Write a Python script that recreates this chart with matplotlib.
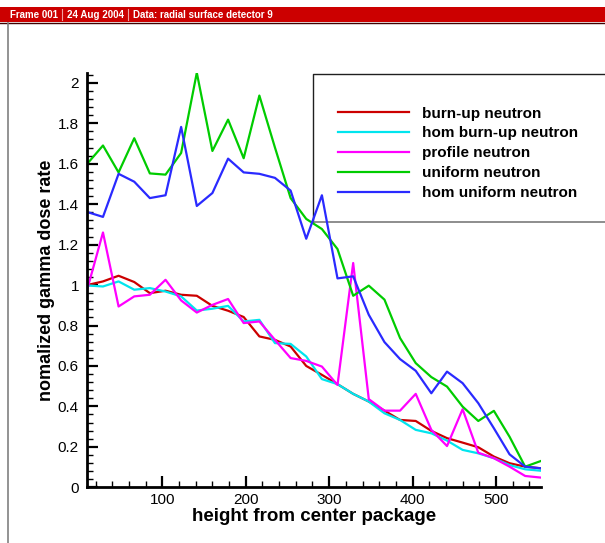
import matplotlib.pyplot as plt
from matplotlib.patches import Rectangle
from matplotlib.lines import Line2D
from matplotlib.ticker import MultipleLocator

plt.rcParams["font.family"] = ["Liberation Sans", "DejaVu Sans"]

# Detector heights (cm from package center)
heights = [10.0, 28.8, 47.5, 66.3, 85.0, 103.8, 122.5, 141.3, 160.0, 178.8,
           197.5, 216.3, 235.0, 253.8, 272.5, 291.3, 310.0, 328.8, 347.5, 366.3,
           385.0, 403.8, 422.5, 441.3, 460.0, 478.8, 497.5, 516.3, 535.0, 553.8]

# Normalized gamma dose rate per neutron source model
burnup = [1.00, 1.018, 1.046, 1.015, 0.96, 0.972, 0.952, 0.947, 0.897, 0.873,
          0.842, 0.746, 0.729, 0.696, 0.60, 0.556, 0.51, 0.462, 0.424, 0.379,
          0.333, 0.328, 0.279, 0.243, 0.221, 0.198, 0.152, 0.119, 0.102, 0.094]
hom_burnup = [0.998, 0.993, 1.018, 0.977, 0.985, 0.968, 0.944, 0.874, 0.883, 0.897,
              0.82, 0.828, 0.713, 0.709, 0.647, 0.535, 0.51, 0.462, 0.424, 0.366,
              0.333, 0.284, 0.267, 0.231, 0.185, 0.168, 0.144, 0.11, 0.089, 0.082]
profile = [0.98, 1.26, 0.894, 0.944, 0.952, 1.026, 0.924, 0.864, 0.902, 0.931,
           0.812, 0.82, 0.729, 0.639, 0.625, 0.597, 0.506, 1.109, 0.436, 0.379,
           0.379, 0.462, 0.284, 0.204, 0.386, 0.171, 0.144, 0.102, 0.056, 0.048]
uniform = [1.60, 1.69, 1.557, 1.726, 1.552, 1.546, 1.653, 2.05, 1.663, 1.818,
           1.627, 1.937, 1.68, 1.43, 1.327, 1.277, 1.178, 0.947, 0.997, 0.928,
           0.738, 0.614, 0.545, 0.498, 0.399, 0.328, 0.378, 0.25, 0.102, 0.13]
hom_uniform = [1.361, 1.337, 1.55, 1.511, 1.43, 1.444, 1.782, 1.391, 1.455, 1.625,
               1.557, 1.55, 1.53, 1.467, 1.229, 1.444, 1.033, 1.043, 0.853, 0.718,
               0.634, 0.576, 0.465, 0.572, 0.515, 0.416, 0.292, 0.163, 0.102, 0.094]

series = [
    ("burn-up neutron", burnup, "#cc0000"),
    ("hom burn-up neutron", hom_burnup, "#00e5ee"),
    ("profile neutron", profile, "#ff00ff"),
    ("uniform neutron", uniform, "#00cc00"),
    ("hom uniform neutron", hom_uniform, "#2a2aff"),
]

fig = plt.figure(figsize=(6.05, 5.43), dpi=100)
W, H = 605.0, 543.0

# Header banner with frame info
fig.add_artist(Rectangle((0, 1 - 22 / H), 1, 15 / H, transform=fig.transFigure,
                         facecolor="#cc0000", edgecolor="none"))
fig.add_artist(Line2D([0, 1], [1 - 22.5 / H] * 2, transform=fig.transFigure,
                      color="#400000", lw=1.0))
fig.add_artist(Line2D([8 / W, 8 / W], [0, 1 - 23 / H], transform=fig.transFigure,
                      color="#808080", lw=1.2))
for x, txt in [(10, "Frame 001"), (67, "24 Aug 2004"), (133, "Data: radial surface detector 9")]:
    fig.text(x / W, 1 - 14.5 / H, txt, color="white", fontsize=7, fontweight="bold",
             va="center", ha="left")
for x in (62, 128):
    fig.add_artist(Line2D([x / W, x / W], [1 - 20 / H, 1 - 9 / H], transform=fig.transFigure,
                          color="#f0a0a0", lw=0.8))

# Legend frame sits behind the curves and runs past the right edge
box_left, box_top, box_bottom = 312.7 / W, 1 - 74.3 / H, 1 - 222.3 / H
fig.add_artist(Line2D([box_left, box_left, 1.01], [box_bottom, box_top, box_top],
                      transform=fig.transFigure, color="#202020", lw=1.0, zorder=-1))
fig.add_artist(Line2D([box_left, 1.01], [box_bottom, box_bottom],
                      transform=fig.transFigure, color="#7a7a7a", lw=1.2, zorder=-1))

ax = fig.add_axes([87.3 / W, 1 - 487.3 / H, (541 - 87.3) / W, (487.3 - 72.7) / H])
ax.patch.set_visible(False)
for label, values, color in series:
    ax.plot(heights, values, color=color, lw=1.6, label=label)

ax.set_xlim(10, 554)
ax.set_ylim(0, 2.05)
ax.xaxis.set_major_locator(MultipleLocator(100))
ax.xaxis.set_minor_locator(MultipleLocator(20))
ax.yaxis.set_major_locator(MultipleLocator(0.2))
ax.yaxis.set_minor_locator(MultipleLocator(0.04))
ax.yaxis.set_major_formatter(plt.FuncFormatter(lambda v, _: f"{v:g}"))
ax.spines["top"].set_visible(False)
ax.spines["right"].set_visible(False)
for side in ("left", "bottom"):
    ax.spines[side].set_linewidth(2)
ax.tick_params(which="major", direction="in", length=8, width=1.6, labelsize=11, pad=6)
ax.tick_params(axis="x", which="major", pad=4)
ax.tick_params(which="minor", direction="in", length=4, width=1.0)
ax.set_xlabel("height from center package", fontsize=13.5, fontweight="bold", labelpad=1)
ax.set_ylabel("nomalized gamma dose rate", fontsize=13, fontweight="bold", labelpad=2)

leg = fig.legend(loc="upper left", bbox_to_anchor=(330 / W, 1 - 99 / H),
                 frameon=False, borderpad=0, handlelength=4.7, handletextpad=0.8,
                 labelspacing=0.38, prop={"weight": "bold", "size": 11})

fig.savefig("out.png", dpi=100)
